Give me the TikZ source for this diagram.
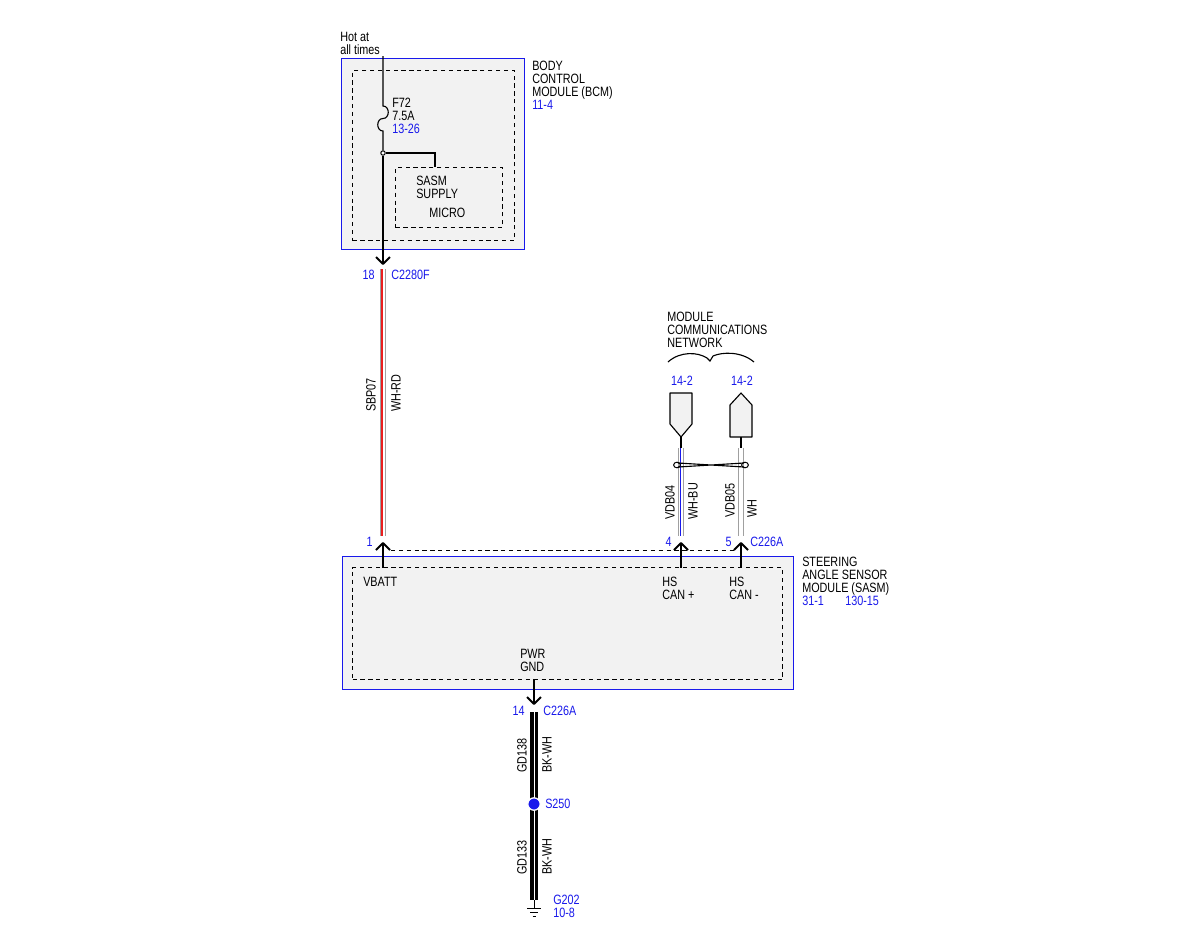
\documentclass[tikz,border=0pt]{standalone}
\usepackage{fontspec}
\setmainfont{Liberation Sans}[FakeStretch=0.8]
\usepackage{xcolor}
\usetikzlibrary{positioning}

\definecolor{pinblue}{RGB}{25,25,235}
\definecolor{boxfill}{RGB}{242,242,242}
\definecolor{wiregray}{RGB}{160,160,160}
\definecolor{stripered}{RGB}{235,30,30}

\tikzset{
    modbox/.style={draw=pinblue, line width=1pt, fill=boxfill, rectangle, inner sep=0pt, anchor=north west},
    dashbox/.style={draw, dash pattern=on 3pt off 2.6pt, line width=0.8pt, rectangle, inner sep=0pt, anchor=north west},
    lbl/.style={inner sep=0pt, anchor=north west, align=left},
    pin/.style={lbl, text=pinblue},
    wlabel/.style={inner sep=0pt, rotate=90, anchor=west},
    wire/.style={line width=0.8pt},
    wirewh/.style={draw=wiregray, line width=0.7pt, double=white, double distance=3pt},
    wirebk/.style={draw=black, line width=2.3pt, double=white, double distance=0.5pt},
    chev/.style={line width=1.3pt, line join=round},
    plug/.style={draw, fill=boxfill, line width=0.8pt, line join=round}
}

\begin{document}
\begin{tikzpicture}[x=0.25mm, y=-0.25mm, font=\fontsize{9.6}{9.21}\selectfont]
    \path[use as bounding box, fill=white] (0,0) rectangle (1200,927);

    % body control module
    \node[modbox, minimum width=45.75mm, minimum height=47.75mm] (bcm) at (341,58) {};
    \node[dashbox, minimum width=40.5mm, minimum height=42.5mm] (bcmin) at (352,70) {};
    \node[dashbox, minimum width=26.75mm, minimum height=15mm] (micro) at (395,167) {};
    \node[lbl] (hot) at (340,32) {Hot at\\all times};
    \node[lbl] (bcmlbl) at (532,61) {BODY\\CONTROL\\MODULE (BCM)\\\textcolor{pinblue}{11-4}};
    \node[lbl] (fuselbl) at (392,98) {F72\\7.5A\\\textcolor{pinblue}{13-26}};
    \node[lbl] (suplbl) at (416,176) {SASM\\SUPPLY};
    \node[lbl] (microlbl) at (429,208) {MICRO};

    \coordinate (hotin) at (383,56);
    \coordinate (fusea) at (383,106);
    \coordinate (fuseb) at (383,131);
    \coordinate (supin) at (435,167);
    \coordinate (c18) at (383,264);
    \node[circle, draw, fill=white, line width=0.7pt, inner sep=0pt, minimum size=1.1mm] (jn) at (383,153) {};
    \draw[wire] (hotin) -- (fusea) .. controls (390,106) and (390,118.5) .. (383,118.5)
        .. controls (376,118.5) and (376,131) .. (fuseb) -- (jn);
    \draw[wire] (jn) -| (supin);
    \draw[wire] (jn) -- (c18);
    \draw[chev] (c18) ++(-7,-7) -- (c18) -- ++(7,-7);
    \node[pin, anchor=north east] (p18) at (375,270) {18};
    \node[pin] (c2280f) at (391,270) {C2280F};

    % SBP07 wire
    \coordinate (r1) at (383,269);
    \coordinate (r2) at (383,536);
    \draw[wirewh] (r1) -- (r2);
    \draw[stripered, line width=1pt] ([xshift=-0.7pt] r1) -- ([xshift=-0.7pt] r2);
    \node[wlabel] (sbp07) at (371,412) {SBP07};
    \node[wlabel] (whrd) at (396,412) {WH-RD};

    % network
    \node[lbl] (netlbl) at (667,312) {MODULE\\COMMUNICATIONS\\NETWORK};
    \draw[line width=0.8pt] (668,362) .. controls (680,351) and (698,352) .. (707,358) -- (710,361) -- (713,356)
        .. controls (722,352) and (741,351) .. (754,362);
    \node[pin, anchor=center] (ref1) at (682,381) {14-2};
    \node[pin, anchor=center] (ref2) at (742,381) {14-2};
    \draw[plug] (670,393) -- (692,393) -- (692,424) -- (681,437) -- (670,424) -- cycle;
    \draw[plug] (741,393) -- (752,405) -- (752,437) -- (730,437) -- (730,405) -- cycle;
    \coordinate (pl1) at (681,437);
    \coordinate (pl2) at (741,437);
    \coordinate (b1) at (681,448);
    \coordinate (b2) at (681,536);
    \coordinate (w1) at (741,448);
    \coordinate (w2) at (741,536);
    \draw[wire] (pl1) -- (b1);
    \draw[wire] (pl2) -- (w1);
    \draw[wirewh] (b1) -- (b2);
    \draw[pinblue, line width=0.8pt] ([xshift=-0.5pt] b1) -- ([xshift=-0.5pt] b2);
    \draw[wirewh] (w1) -- (w2);
    % twist
    \draw[line width=0.8pt] (678,463) -- (744,467) (678,467) -- (744,463);
    \draw[line width=0.7pt] (677,465) ellipse (0.85mm and 0.7mm) (745,465) ellipse (0.85mm and 0.7mm);
    \node[wlabel] (vdb04) at (670,520) {VDB04};
    \node[wlabel] (whbu) at (693,520) {WH-BU};
    \node[wlabel] (vdb05) at (730,518) {VDB05};
    \node[wlabel] (wh) at (752,518) {WH};

    % steering angle sensor module
    \node[modbox, minimum width=112.75mm, minimum height=33.25mm] (sasm) at (342,556) {};
    \node[dashbox, minimum width=107.5mm, minimum height=28mm] (sasmin) at (352,567) {};
    \draw[dash pattern=on 3pt off 2.6pt, line width=0.7pt] (391,550) -- (737,550);
    \coordinate (c1) at (383,543);
    \coordinate (c4) at (681,543);
    \coordinate (c5) at (741,543);
    \foreach \c in {c1,c4,c5} {
        \draw[chev] (\c) ++(-7,7) -- (\c) -- ++(7,7);
        \draw[wire] (\c) -- ++(0,25);
    }
    \node[pin, anchor=north east] (p1) at (373,537) {1};
    \node[pin, anchor=north east] (p4) at (672,537) {4};
    \node[pin, anchor=north east] (p5) at (732,537) {5};
    \node[pin] (c226a) at (750,537) {C226A};
    \node[lbl] (vbatt) at (363,577) {VBATT};
    \node[lbl] (canp) at (662,577) {HS\\CAN +};
    \node[lbl] (canm) at (729,577) {HS\\CAN -};
    \node[lbl] (pwr) at (520,649) {PWR\\GND};
    \node[lbl] (sasmlbl) at (802,557) {STEERING\\ANGLE SENSOR\\MODULE (SASM)\\\textcolor{pinblue}{31-1}};
    \node[pin] (sasmref) at (845,596) {130-15};

    % ground
    \coordinate (gin) at (534,679);
    \coordinate (c14) at (534,704);
    \draw[wire] (gin) -- (c14);
    \draw[chev] (c14) ++(-7,-7) -- (c14) -- ++(7,-7);
    \node[pin, anchor=north east] (p14) at (525,706) {14};
    \node[pin] (c226b) at (543,706) {C226A};
    \coordinate (k1) at (534,712);
    \coordinate (k2) at (534,900);
    \draw[wirebk] (k1) -- (k2);
    \node[circle, fill=pinblue, draw=white, line width=0.9pt, inner sep=0pt, minimum size=3.1mm] (s250) at (534,804) {};
    \node[pin, anchor=west] (s250lbl) at (545,804) {S250};
    \node[wlabel] (gd138) at (522,773) {GD138};
    \node[wlabel] (bkwh1) at (547,773) {BK-WH};
    \node[wlabel] (gd133) at (522,875) {GD133};
    \node[wlabel] (bkwh2) at (547,875) {BK-WH};
    \coordinate (g0) at (534,908);
    \draw[line width=0.7pt] (k2) -- (g0);
    \draw[line width=0.7pt] (g0) ++(-7,0) -- ++(14,0) (g0) ++(-4,4) -- ++(8,0) (g0) ++(-1.5,8) -- ++(3,0);
    \node[pin] (g202) at (553,895) {G202\\10-8};
\end{tikzpicture}
\end{document}
